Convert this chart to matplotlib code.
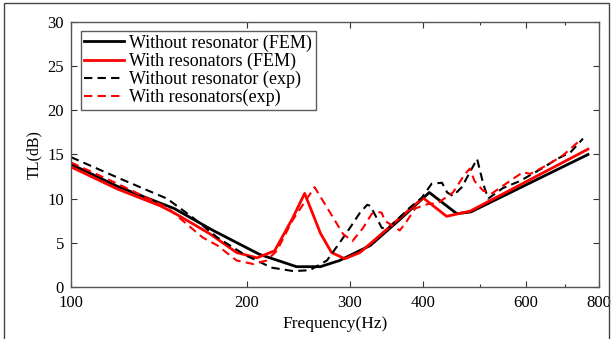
import matplotlib
matplotlib.use("Agg")
import matplotlib.pyplot as plt
from matplotlib.ticker import FixedLocator, NullFormatter
from matplotlib.patches import Rectangle

# Without resonator (FEM)
f_wo_fem = [100, 120, 142, 150, 175, 210, 243, 267, 288, 325, 366, 410, 457, 483, 766]
tl_wo_fem = [13.9, 11.4, 9.5, 8.9, 6.4, 3.7, 2.3, 2.3, 3.0, 4.7, 7.7, 10.7, 8.3, 8.5, 15.0]

# With resonators (FEM)
f_w_fem = [100, 120, 142, 150, 173, 192, 208, 223, 239, 251, 267, 279, 294, 312, 325,
           400, 439, 482, 766]
tl_w_fem = [13.6, 11.1, 9.2, 8.4, 6.0, 3.9, 3.3, 4.1, 7.7, 10.6, 6.1, 3.9, 3.2, 3.9, 4.9,
            10.1, 8.0, 8.6, 15.6]

# Without resonator (exp)
f_wo_exp = [100, 120, 146, 162, 178, 187, 200, 208, 220, 240, 256, 274, 288, 300, 312,
            321, 325, 334, 340, 348, 380, 398, 414, 431, 440, 450, 466, 495, 507, 517,
            548, 586, 642, 678, 714, 751]
tl_wo_exp = [14.7, 12.4, 10.0, 7.8, 5.6, 4.7, 3.5, 3.0, 2.2, 1.8, 1.9, 3.0, 5.0, 6.7, 8.4,
             9.3, 9.2, 7.7, 6.7, 6.6, 9.0, 10.1, 11.7, 11.8, 10.7, 10.3, 11.3, 14.5, 11.7, 10.0,
             11.2, 12.0, 13.5, 14.5, 15.2, 16.8]

# With resonators (exp)
f_w_exp = [100, 120, 146, 168, 178, 192, 205, 216, 225, 239, 261, 277, 292, 303, 316,
           327, 335, 340, 344, 365, 373, 388, 408, 424, 450, 472, 481, 490, 507, 525,
           563, 593, 610, 652, 694, 742]
tl_w_exp = [14.1, 11.7, 9.0, 5.6, 4.7, 3.0, 2.6, 3.0, 4.1, 7.5, 11.3, 8.5, 6.0, 5.2, 6.7,
            8.3, 8.5, 8.4, 7.5, 6.4, 7.2, 8.9, 9.4, 9.5, 10.7, 12.8, 13.4, 12.0, 10.9, 10.6,
            12.0, 13.0, 12.8, 13.8, 14.9, 16.6]

x_major = [100, 200, 300, 400, 600, 800]
x_minor = [500, 700]
y_ticks = [0, 5, 10, 15, 20, 25, 30]

plt.rcParams['font.family'] = ['Liberation Serif', 'DejaVu Serif']

fig = plt.figure(figsize=(6.13, 3.39), dpi=100)
ax = fig.add_axes([71/613, 1 - 287/339, (599 - 71)/613, (287 - 22)/339])

ax.plot(f_wo_fem, tl_wo_fem, color='black', lw=2.0, label='Without resonator (FEM)')
ax.plot(f_w_fem, tl_w_fem, color='red', lw=2.0, label='With resonators (FEM)')
ax.plot(f_wo_exp, tl_wo_exp, color='black', lw=1.5, ls=(0, (4, 2.5)), label='Without resonator (exp)')
ax.plot(f_w_exp, tl_w_exp, color='red', lw=1.5, ls=(0, (4, 2.5)), label='With resonators(exp)')

ax.set_xscale('log')
ax.set_xlim(100, 800)
ax.set_ylim(0, 30)
ax.xaxis.set_major_locator(FixedLocator(x_major))
ax.xaxis.set_minor_locator(FixedLocator(x_minor))
ax.xaxis.set_minor_formatter(NullFormatter())
ax.set_xticklabels([str(v) for v in x_major])
ax.set_yticks(y_ticks)
ax.tick_params(which='both', direction='in', top=True, right=True, labelsize=12,
               width=0.8, color='#333333')
ax.tick_params(which='major', length=4)
ax.tick_params(which='minor', length=2.5)
ax.tick_params(axis='x', pad=6)
ax.tick_params(axis='y', pad=5)
for s in ax.spines.values():
    s.set_color('#555555')
    s.set_linewidth(1.0)

ax.set_xlabel('Frequency(Hz)', fontsize=12.5, labelpad=3)
ax.set_ylabel('TL(dB)', fontsize=11.5, labelpad=4)

leg = ax.legend(loc='upper left', bbox_to_anchor=(0.018, 0.967), fontsize=13,
                frameon=True, fancybox=False, handlelength=2.2, handletextpad=0.3,
                borderpad=0.2, labelspacing=0.05, borderaxespad=0)
leg.get_frame().set_edgecolor('#333333')
leg.get_frame().set_linewidth(1.0)

fig.patches.append(Rectangle((4/613, -0.1), (609 - 4)/613, 1.1 - 3/339,
                             transform=fig.transFigure, fill=False,
                             edgecolor='#444444', lw=1.0))

fig.savefig('out.png', dpi=100)
